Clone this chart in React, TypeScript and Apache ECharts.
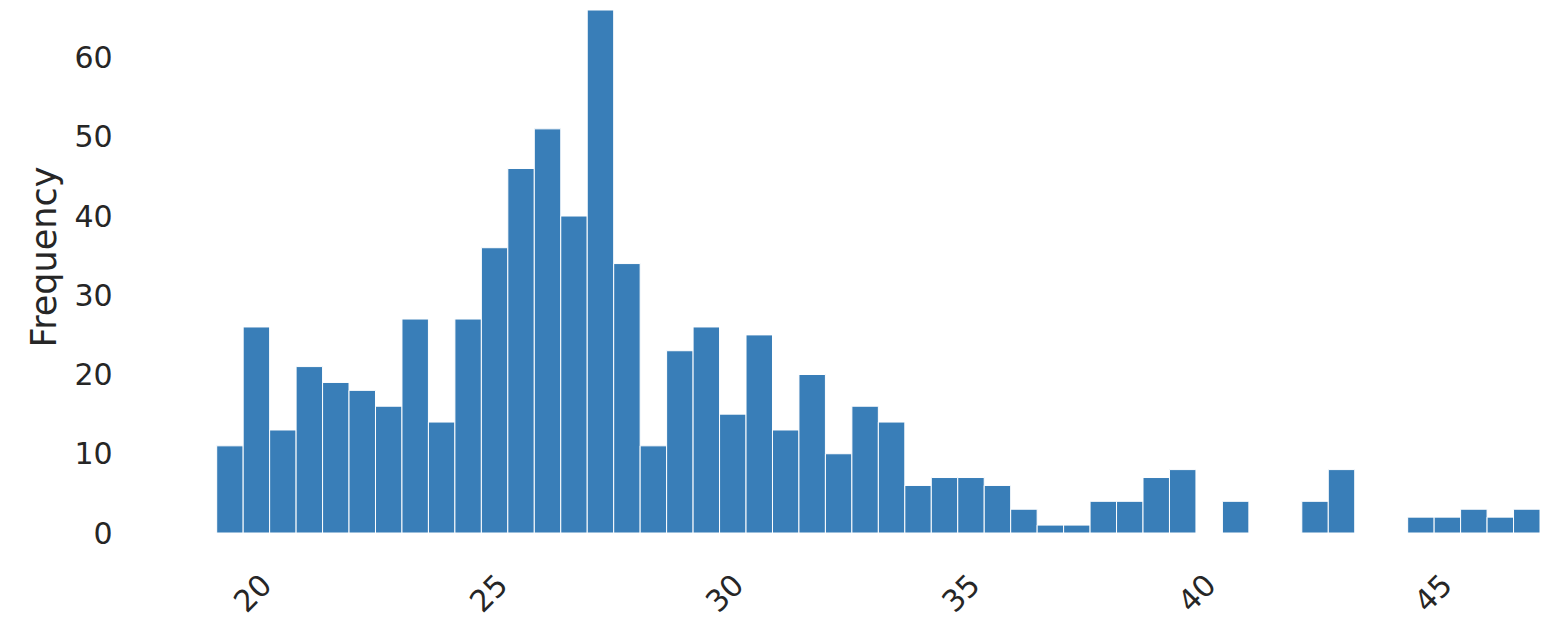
import React, { useEffect, useRef } from "react";
import * as echarts from "echarts";

// Histogram bins (counts per bin)
const counts: number[] = [
  11, 26, 13, 21, 19, 18, 16, 27, 14, 27,
  36, 46, 51, 40, 66, 34, 11, 23, 26, 15,
  25, 13, 20, 10, 16, 14, 6, 7, 7, 6,
  3, 1, 1, 4, 4, 7, 8, 0, 4, 0,
  0, 4, 8, 0, 0, 2, 2, 3, 2, 3,
];
const binStart = 19.242;
const binWidth = 0.5605;
const xTicks: number[] = [20, 25, 30, 35, 40, 45];
const yTicks: number[] = [0, 10, 20, 30, 40, 50, 60];
const yLabel = "Frequency";

const FONT = "DejaVu Sans";
const TEXT = "#262626";
const BAR = "#397EB8";

export default function App() {
  const ref = useRef<HTMLDivElement>(null);
  useEffect(() => {
    if (!ref.current) return;
    const chart = echarts.init(ref.current, undefined, { renderer: "svg" });
    const data = counts.map((c, i) => [
      binStart + i * binWidth,
      binStart + (i + 1) * binWidth,
      c,
    ]);
    const xMax = binStart + counts.length * binWidth;
    chart.setOption({
      animation: false,
      backgroundColor: "#ffffff",
      grid: { left: 216.7, right: 11, top: 10, bottom: 87 },
      xAxis: {
        type: "value",
        min: binStart,
        max: xMax,
        axisLine: { show: false },
        axisTick: { show: false },
        splitLine: { show: false },
        axisLabel: {
          customValues: xTicks,
          rotate: 45,
          align: "center",
          verticalAlign: "middle",
          margin: 60,
          fontSize: 30,
          fontFamily: FONT,
          color: TEXT,
        },
      },
      yAxis: {
        type: "value",
        min: 0,
        max: 66,
        axisLine: { show: false },
        axisTick: { show: false },
        splitLine: { show: false },
        axisLabel: {
          customValues: yTicks,
          margin: 104,
          fontSize: 30,
          fontFamily: FONT,
          color: TEXT,
        },
      },
      graphic: [
        {
          type: "text",
          x: 44,
          y: 257,
          rotation: Math.PI / 2,
          style: {
            text: yLabel,
            font: `35px '${FONT}'`,
            fill: TEXT,
            align: "center",
            verticalAlign: "middle",
          },
        },
      ],
      series: [
        {
          type: "custom",
          data,
          encode: { x: [0, 1], y: 2 },
          renderItem: (params: any, api: any) => {
            const v = api.value(2);
            if (!v) return null;
            const p0 = api.coord([api.value(0), 0]);
            const p1 = api.coord([api.value(1), v]);
            return {
              type: "rect",
              shape: {
                x: p0[0],
                y: p1[1],
                width: p1[0] - p0[0],
                height: p0[1] - p1[1],
              },
              style: { fill: BAR, stroke: "#ffffff", lineWidth: 1 },
            };
          },
        },
      ],
    });
    return () => chart.dispose();
  }, []);
  return (
    <div
      ref={ref}
      style={{ position: "absolute", left: 0, top: 0, width: 1551, height: 620 }}
    />
  );
}
